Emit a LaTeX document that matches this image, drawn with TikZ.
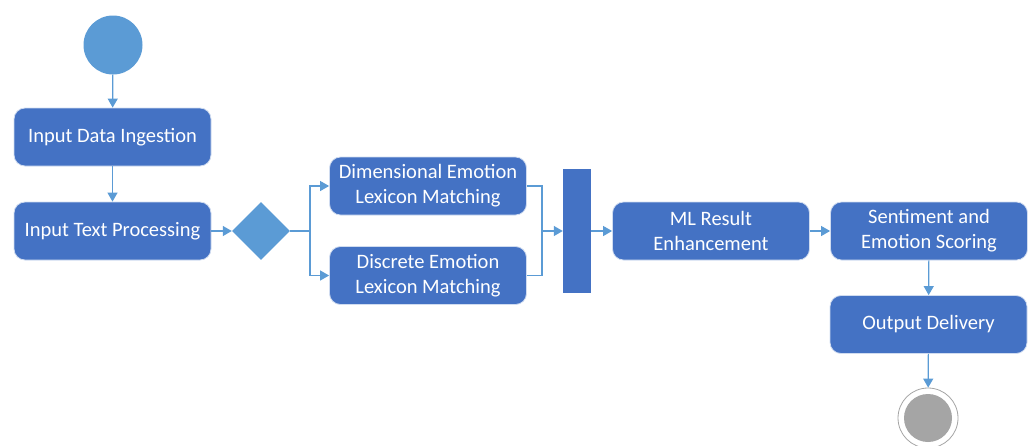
\documentclass[tikz,border=0pt]{standalone}
\usepackage{fontspec}
\setmainfont{Carlito}
\usetikzlibrary{arrows.meta,shapes.geometric}
\definecolor{boxblue}{HTML}{4472C4}
\definecolor{lightblue}{HTML}{5B9BD5}
\definecolor{endgray}{HTML}{A5A5A5}
\tikzset{
  act/.style={draw=white!75!boxblue, line width=0.8pt, fill=boxblue, rounded corners=11pt,
    minimum width=197pt, minimum height=58pt, inner sep=0pt, align=center, text=white,
    font=\fontsize{20.5}{25}\selectfont},
  conn/.style={draw=lightblue, line width=1.2pt, -{Triangle[length=9pt,width=10pt]}},
  plain/.style={draw=lightblue, line width=1.2pt},
  startnode/.style={circle, fill=lightblue, minimum size=59pt, inner sep=0pt},
  decision/.style={diamond, fill=lightblue, minimum width=58pt, minimum height=58pt, inner sep=0pt, aspect=1},
  bar/.style={fill=boxblue, minimum width=28pt, minimum height=124pt, inner sep=0pt},
}
\begin{document}
\begin{tikzpicture}[x=1pt,y=-1pt]
\useasboundingbox (0,0) rectangle (1030,445);
\node[startnode] (start) at (113,45) {};
\node[act] (ingest) at (112.5,137) {Input Data Ingestion};
\node[act] (proc) at (112.5,231) {Input Text Processing};
\node[decision] (dec) at (261,231) {};
\node[act] (dim) at (428,186) {Dimensional Emotion\\Lexicon Matching};
\node[act] (disc) at (428,275.5) {Discrete Emotion\\Lexicon Matching};
\node[bar] (join) at (577,231) {};
\node[act] (ml) at (711,231) {ML Result\\Enhancement};
\node[act] (sent) at (929,231) {Sentiment and\\Emotion Scoring};
\node[act] (out) at (928.5,324.5) {Output Delivery};
\node[circle, draw=endgray, line width=0.8pt, fill=white, minimum size=60pt, inner sep=0pt] (endo) at (928,418) {};
\node[circle, fill=endgray, minimum size=48pt, inner sep=0pt] (endi) at (endo) {};
\coordinate (split) at (310,231);
\coordinate (merge) at (542,231);

\draw[conn] (start) -- (ingest);
\draw[conn] (ingest) -- (proc);
\draw[conn] (proc) -- (dec);
\draw[plain] (dec.east) -- (split);
\draw[conn] (split) |- (dim.west);
\draw[conn] (split) |- (disc.west);
\draw[plain] (dim.east) -| (merge);
\draw[plain] (disc.east) -| (merge);
\draw[conn] (merge) -- (join.west);
\draw[conn] (join.east) -- (ml.west);
\draw[conn] (ml) -- (sent);
\draw[conn] (sent) -- (out);
\draw[conn] (out) -- (endo);
\end{tikzpicture}
\end{document}
